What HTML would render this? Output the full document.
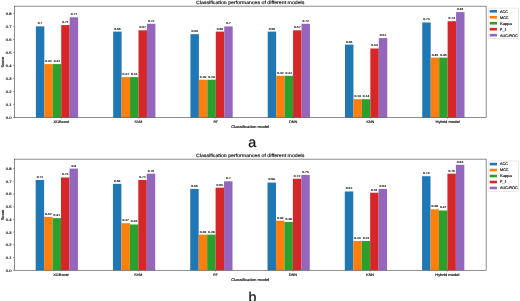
<!DOCTYPE html>
<html><head><meta charset="utf-8"><style>
html,body{margin:0;padding:0;background:#fff;overflow:hidden;}
svg{display:block;font-family:"Liberation Sans",sans-serif;text-rendering:geometricPrecision;}
</style></head><body>
<svg width="520" height="301" viewBox="0 0 520 301">
<rect width="520" height="301" fill="#fff"/>
<rect x="35.88" y="26.40" width="8.45" height="91.00" fill="#1f77b4"/>
<rect x="44.33" y="64.10" width="8.45" height="53.30" fill="#ff7f0e"/>
<rect x="52.77" y="64.10" width="8.45" height="53.30" fill="#2ca02c"/>
<rect x="61.22" y="25.10" width="8.45" height="92.30" fill="#d62728"/>
<rect x="69.67" y="17.30" width="8.45" height="100.10" fill="#9467bd"/>
<line x1="61.20" y1="117.4" x2="61.20" y2="118.7" stroke="#000" stroke-width="0.35"/>
<rect x="113.16" y="31.60" width="8.45" height="85.80" fill="#1f77b4"/>
<rect x="121.61" y="77.10" width="8.45" height="40.30" fill="#ff7f0e"/>
<rect x="130.06" y="77.10" width="8.45" height="40.30" fill="#2ca02c"/>
<rect x="138.50" y="30.30" width="8.45" height="87.10" fill="#d62728"/>
<rect x="146.95" y="23.80" width="8.45" height="93.60" fill="#9467bd"/>
<line x1="138.48" y1="117.4" x2="138.48" y2="118.7" stroke="#000" stroke-width="0.35"/>
<rect x="190.44" y="34.20" width="8.45" height="83.20" fill="#1f77b4"/>
<rect x="198.88" y="79.70" width="8.45" height="37.70" fill="#ff7f0e"/>
<rect x="207.34" y="79.70" width="8.45" height="37.70" fill="#2ca02c"/>
<rect x="215.78" y="31.60" width="8.45" height="85.80" fill="#d62728"/>
<rect x="224.24" y="26.40" width="8.45" height="91.00" fill="#9467bd"/>
<line x1="215.76" y1="117.4" x2="215.76" y2="118.7" stroke="#000" stroke-width="0.35"/>
<rect x="267.72" y="31.60" width="8.45" height="85.80" fill="#1f77b4"/>
<rect x="276.17" y="75.80" width="8.45" height="41.60" fill="#ff7f0e"/>
<rect x="284.62" y="75.80" width="8.45" height="41.60" fill="#2ca02c"/>
<rect x="293.07" y="30.30" width="8.45" height="87.10" fill="#d62728"/>
<rect x="301.52" y="23.80" width="8.45" height="93.60" fill="#9467bd"/>
<line x1="293.04" y1="117.4" x2="293.04" y2="118.7" stroke="#000" stroke-width="0.35"/>
<rect x="345.00" y="44.60" width="8.45" height="72.80" fill="#1f77b4"/>
<rect x="353.44" y="99.20" width="8.45" height="18.20" fill="#ff7f0e"/>
<rect x="361.89" y="99.20" width="8.45" height="18.20" fill="#2ca02c"/>
<rect x="370.35" y="48.50" width="8.45" height="68.90" fill="#d62728"/>
<rect x="378.80" y="38.10" width="8.45" height="79.30" fill="#9467bd"/>
<line x1="370.32" y1="117.4" x2="370.32" y2="118.7" stroke="#000" stroke-width="0.35"/>
<rect x="422.27" y="22.50" width="8.45" height="94.90" fill="#1f77b4"/>
<rect x="430.72" y="57.60" width="8.45" height="59.80" fill="#ff7f0e"/>
<rect x="439.17" y="57.60" width="8.45" height="59.80" fill="#2ca02c"/>
<rect x="447.62" y="21.20" width="8.45" height="96.20" fill="#d62728"/>
<rect x="456.07" y="12.10" width="8.45" height="105.30" fill="#9467bd"/>
<line x1="447.60" y1="117.4" x2="447.60" y2="118.7" stroke="#000" stroke-width="0.35"/>
<rect x="14.3" y="6.1" width="471.8" height="111.30000000000001" fill="none" stroke="#000" stroke-width="0.45"/>
<line x1="13.0" y1="117.40" x2="14.3" y2="117.40" stroke="#000" stroke-width="0.35"/>
<line x1="13.0" y1="104.40" x2="14.3" y2="104.40" stroke="#000" stroke-width="0.35"/>
<line x1="13.0" y1="91.40" x2="14.3" y2="91.40" stroke="#000" stroke-width="0.35"/>
<line x1="13.0" y1="78.40" x2="14.3" y2="78.40" stroke="#000" stroke-width="0.35"/>
<line x1="13.0" y1="65.40" x2="14.3" y2="65.40" stroke="#000" stroke-width="0.35"/>
<line x1="13.0" y1="52.40" x2="14.3" y2="52.40" stroke="#000" stroke-width="0.35"/>
<line x1="13.0" y1="39.40" x2="14.3" y2="39.40" stroke="#000" stroke-width="0.35"/>
<line x1="13.0" y1="26.40" x2="14.3" y2="26.40" stroke="#000" stroke-width="0.35"/>
<line x1="13.0" y1="13.40" x2="14.3" y2="13.40" stroke="#000" stroke-width="0.35"/>
<rect x="488.2" y="8.20" width="30.3" height="30.4" rx="0.8" fill="#fff" stroke="#cccccc" stroke-width="0.45"/>
<rect x="489.7" y="10.00" width="7.3" height="2.6" fill="#1f77b4"/>
<rect x="489.7" y="15.97" width="7.3" height="2.6" fill="#ff7f0e"/>
<rect x="489.7" y="21.94" width="7.3" height="2.6" fill="#2ca02c"/>
<rect x="489.7" y="27.91" width="7.3" height="2.6" fill="#d62728"/>
<rect x="489.7" y="33.88" width="7.3" height="2.6" fill="#9467bd"/>
<rect x="35.67" y="180.03" width="8.45" height="90.17" fill="#1f77b4"/>
<rect x="44.12" y="216.86" width="8.45" height="53.34" fill="#ff7f0e"/>
<rect x="52.57" y="218.13" width="8.45" height="52.07" fill="#2ca02c"/>
<rect x="61.02" y="177.49" width="8.45" height="92.71" fill="#d62728"/>
<rect x="69.47" y="168.60" width="8.45" height="101.60" fill="#9467bd"/>
<line x1="61.00" y1="270.2" x2="61.00" y2="271.5" stroke="#000" stroke-width="0.35"/>
<rect x="112.95" y="183.84" width="8.45" height="86.36" fill="#1f77b4"/>
<rect x="121.40" y="223.21" width="8.45" height="46.99" fill="#ff7f0e"/>
<rect x="129.85" y="224.48" width="8.45" height="45.72" fill="#2ca02c"/>
<rect x="138.30" y="180.03" width="8.45" height="90.17" fill="#d62728"/>
<rect x="146.75" y="173.68" width="8.45" height="96.52" fill="#9467bd"/>
<line x1="138.28" y1="270.2" x2="138.28" y2="271.5" stroke="#000" stroke-width="0.35"/>
<rect x="190.24" y="188.92" width="8.45" height="81.28" fill="#1f77b4"/>
<rect x="198.69" y="234.64" width="8.45" height="35.56" fill="#ff7f0e"/>
<rect x="207.14" y="234.64" width="8.45" height="35.56" fill="#2ca02c"/>
<rect x="215.59" y="187.65" width="8.45" height="82.55" fill="#d62728"/>
<rect x="224.04" y="181.30" width="8.45" height="88.90" fill="#9467bd"/>
<line x1="215.56" y1="270.2" x2="215.56" y2="271.5" stroke="#000" stroke-width="0.35"/>
<rect x="267.51" y="182.57" width="8.45" height="87.63" fill="#1f77b4"/>
<rect x="275.96" y="220.67" width="8.45" height="49.53" fill="#ff7f0e"/>
<rect x="284.41" y="221.94" width="8.45" height="48.26" fill="#2ca02c"/>
<rect x="292.87" y="178.76" width="8.45" height="91.44" fill="#d62728"/>
<rect x="301.31" y="174.95" width="8.45" height="95.25" fill="#9467bd"/>
<line x1="292.84" y1="270.2" x2="292.84" y2="271.5" stroke="#000" stroke-width="0.35"/>
<rect x="344.80" y="191.46" width="8.45" height="78.74" fill="#1f77b4"/>
<rect x="353.25" y="240.99" width="8.45" height="29.21" fill="#ff7f0e"/>
<rect x="361.69" y="240.99" width="8.45" height="29.21" fill="#2ca02c"/>
<rect x="370.15" y="192.73" width="8.45" height="77.47" fill="#d62728"/>
<rect x="378.60" y="188.92" width="8.45" height="81.28" fill="#9467bd"/>
<line x1="370.12" y1="270.2" x2="370.12" y2="271.5" stroke="#000" stroke-width="0.35"/>
<rect x="422.07" y="176.22" width="8.45" height="93.98" fill="#1f77b4"/>
<rect x="430.52" y="209.24" width="8.45" height="60.96" fill="#ff7f0e"/>
<rect x="438.97" y="210.51" width="8.45" height="59.69" fill="#2ca02c"/>
<rect x="447.43" y="173.68" width="8.45" height="96.52" fill="#d62728"/>
<rect x="455.88" y="164.79" width="8.45" height="105.41" fill="#9467bd"/>
<line x1="447.40" y1="270.2" x2="447.40" y2="271.5" stroke="#000" stroke-width="0.35"/>
<rect x="14.3" y="159.1" width="471.8" height="111.1" fill="none" stroke="#000" stroke-width="0.45"/>
<line x1="13.0" y1="270.20" x2="14.3" y2="270.20" stroke="#000" stroke-width="0.35"/>
<line x1="13.0" y1="257.50" x2="14.3" y2="257.50" stroke="#000" stroke-width="0.35"/>
<line x1="13.0" y1="244.80" x2="14.3" y2="244.80" stroke="#000" stroke-width="0.35"/>
<line x1="13.0" y1="232.10" x2="14.3" y2="232.10" stroke="#000" stroke-width="0.35"/>
<line x1="13.0" y1="219.40" x2="14.3" y2="219.40" stroke="#000" stroke-width="0.35"/>
<line x1="13.0" y1="206.70" x2="14.3" y2="206.70" stroke="#000" stroke-width="0.35"/>
<line x1="13.0" y1="194.00" x2="14.3" y2="194.00" stroke="#000" stroke-width="0.35"/>
<line x1="13.0" y1="181.30" x2="14.3" y2="181.30" stroke="#000" stroke-width="0.35"/>
<line x1="13.0" y1="168.60" x2="14.3" y2="168.60" stroke="#000" stroke-width="0.35"/>
<rect x="488.2" y="161.00" width="30.3" height="30.4" rx="0.8" fill="#fff" stroke="#cccccc" stroke-width="0.45"/>
<rect x="489.7" y="162.80" width="7.3" height="2.6" fill="#1f77b4"/>
<rect x="489.7" y="168.77" width="7.3" height="2.6" fill="#ff7f0e"/>
<rect x="489.7" y="174.74" width="7.3" height="2.6" fill="#2ca02c"/>
<rect x="489.7" y="180.71" width="7.3" height="2.6" fill="#d62728"/>
<rect x="489.7" y="186.68" width="7.3" height="2.6" fill="#9467bd"/>
<g style="filter:grayscale(1)">
<text x="40.10" y="24.30" font-size="2.9" text-anchor="middle" textLength="4.61" lengthAdjust="spacingAndGlyphs" fill="#1c1c1c" stroke="#1c1c1c" stroke-width="0.14">0.7</text>
<text x="48.55" y="62.00" font-size="2.9" text-anchor="middle" textLength="6.46" lengthAdjust="spacingAndGlyphs" fill="#1c1c1c" stroke="#1c1c1c" stroke-width="0.14">0.41</text>
<text x="57.00" y="62.00" font-size="2.9" text-anchor="middle" textLength="6.46" lengthAdjust="spacingAndGlyphs" fill="#1c1c1c" stroke="#1c1c1c" stroke-width="0.14">0.41</text>
<text x="65.45" y="23.00" font-size="2.9" text-anchor="middle" textLength="6.46" lengthAdjust="spacingAndGlyphs" fill="#1c1c1c" stroke="#1c1c1c" stroke-width="0.14">0.71</text>
<text x="73.90" y="15.20" font-size="2.9" text-anchor="middle" textLength="6.46" lengthAdjust="spacingAndGlyphs" fill="#1c1c1c" stroke="#1c1c1c" stroke-width="0.14">0.77</text>
<text x="61.20" y="123.00" font-size="3.6" text-anchor="middle" textLength="15.42" lengthAdjust="spacingAndGlyphs" fill="#1c1c1c" stroke="#1c1c1c" stroke-width="0.18">XGBoost</text>
<text x="117.38" y="29.50" font-size="2.9" text-anchor="middle" textLength="6.46" lengthAdjust="spacingAndGlyphs" fill="#1c1c1c" stroke="#1c1c1c" stroke-width="0.14">0.66</text>
<text x="125.83" y="75.00" font-size="2.9" text-anchor="middle" textLength="6.46" lengthAdjust="spacingAndGlyphs" fill="#1c1c1c" stroke="#1c1c1c" stroke-width="0.14">0.31</text>
<text x="134.28" y="75.00" font-size="2.9" text-anchor="middle" textLength="6.46" lengthAdjust="spacingAndGlyphs" fill="#1c1c1c" stroke="#1c1c1c" stroke-width="0.14">0.31</text>
<text x="142.73" y="28.20" font-size="2.9" text-anchor="middle" textLength="6.46" lengthAdjust="spacingAndGlyphs" fill="#1c1c1c" stroke="#1c1c1c" stroke-width="0.14">0.67</text>
<text x="151.18" y="21.70" font-size="2.9" text-anchor="middle" textLength="6.46" lengthAdjust="spacingAndGlyphs" fill="#1c1c1c" stroke="#1c1c1c" stroke-width="0.14">0.72</text>
<text x="138.48" y="123.00" font-size="3.6" text-anchor="middle" textLength="7.85" lengthAdjust="spacingAndGlyphs" fill="#1c1c1c" stroke="#1c1c1c" stroke-width="0.18">SVM</text>
<text x="194.66" y="32.10" font-size="2.9" text-anchor="middle" textLength="6.46" lengthAdjust="spacingAndGlyphs" fill="#1c1c1c" stroke="#1c1c1c" stroke-width="0.14">0.64</text>
<text x="203.11" y="77.60" font-size="2.9" text-anchor="middle" textLength="6.46" lengthAdjust="spacingAndGlyphs" fill="#1c1c1c" stroke="#1c1c1c" stroke-width="0.14">0.29</text>
<text x="211.56" y="77.60" font-size="2.9" text-anchor="middle" textLength="6.46" lengthAdjust="spacingAndGlyphs" fill="#1c1c1c" stroke="#1c1c1c" stroke-width="0.14">0.29</text>
<text x="220.01" y="29.50" font-size="2.9" text-anchor="middle" textLength="6.46" lengthAdjust="spacingAndGlyphs" fill="#1c1c1c" stroke="#1c1c1c" stroke-width="0.14">0.66</text>
<text x="228.46" y="24.30" font-size="2.9" text-anchor="middle" textLength="4.61" lengthAdjust="spacingAndGlyphs" fill="#1c1c1c" stroke="#1c1c1c" stroke-width="0.14">0.7</text>
<text x="215.76" y="123.00" font-size="3.6" text-anchor="middle" textLength="4.57" lengthAdjust="spacingAndGlyphs" fill="#1c1c1c" stroke="#1c1c1c" stroke-width="0.18">RF</text>
<text x="271.94" y="29.50" font-size="2.9" text-anchor="middle" textLength="6.46" lengthAdjust="spacingAndGlyphs" fill="#1c1c1c" stroke="#1c1c1c" stroke-width="0.14">0.66</text>
<text x="280.39" y="73.70" font-size="2.9" text-anchor="middle" textLength="6.46" lengthAdjust="spacingAndGlyphs" fill="#1c1c1c" stroke="#1c1c1c" stroke-width="0.14">0.32</text>
<text x="288.84" y="73.70" font-size="2.9" text-anchor="middle" textLength="6.46" lengthAdjust="spacingAndGlyphs" fill="#1c1c1c" stroke="#1c1c1c" stroke-width="0.14">0.32</text>
<text x="297.29" y="28.20" font-size="2.9" text-anchor="middle" textLength="6.46" lengthAdjust="spacingAndGlyphs" fill="#1c1c1c" stroke="#1c1c1c" stroke-width="0.14">0.67</text>
<text x="305.74" y="21.70" font-size="2.9" text-anchor="middle" textLength="6.46" lengthAdjust="spacingAndGlyphs" fill="#1c1c1c" stroke="#1c1c1c" stroke-width="0.14">0.72</text>
<text x="293.04" y="123.00" font-size="3.6" text-anchor="middle" textLength="8.16" lengthAdjust="spacingAndGlyphs" fill="#1c1c1c" stroke="#1c1c1c" stroke-width="0.18">DNN</text>
<text x="349.22" y="42.50" font-size="2.9" text-anchor="middle" textLength="6.46" lengthAdjust="spacingAndGlyphs" fill="#1c1c1c" stroke="#1c1c1c" stroke-width="0.14">0.56</text>
<text x="357.67" y="97.10" font-size="2.9" text-anchor="middle" textLength="6.46" lengthAdjust="spacingAndGlyphs" fill="#1c1c1c" stroke="#1c1c1c" stroke-width="0.14">0.14</text>
<text x="366.12" y="97.10" font-size="2.9" text-anchor="middle" textLength="6.46" lengthAdjust="spacingAndGlyphs" fill="#1c1c1c" stroke="#1c1c1c" stroke-width="0.14">0.14</text>
<text x="374.57" y="46.40" font-size="2.9" text-anchor="middle" textLength="6.46" lengthAdjust="spacingAndGlyphs" fill="#1c1c1c" stroke="#1c1c1c" stroke-width="0.14">0.53</text>
<text x="383.02" y="36.00" font-size="2.9" text-anchor="middle" textLength="6.46" lengthAdjust="spacingAndGlyphs" fill="#1c1c1c" stroke="#1c1c1c" stroke-width="0.14">0.61</text>
<text x="370.32" y="123.00" font-size="3.6" text-anchor="middle" textLength="7.75" lengthAdjust="spacingAndGlyphs" fill="#1c1c1c" stroke="#1c1c1c" stroke-width="0.18">KNN</text>
<text x="426.50" y="20.40" font-size="2.9" text-anchor="middle" textLength="6.46" lengthAdjust="spacingAndGlyphs" fill="#1c1c1c" stroke="#1c1c1c" stroke-width="0.14">0.73</text>
<text x="434.95" y="55.50" font-size="2.9" text-anchor="middle" textLength="6.46" lengthAdjust="spacingAndGlyphs" fill="#1c1c1c" stroke="#1c1c1c" stroke-width="0.14">0.46</text>
<text x="443.40" y="55.50" font-size="2.9" text-anchor="middle" textLength="6.46" lengthAdjust="spacingAndGlyphs" fill="#1c1c1c" stroke="#1c1c1c" stroke-width="0.14">0.46</text>
<text x="451.85" y="19.10" font-size="2.9" text-anchor="middle" textLength="6.46" lengthAdjust="spacingAndGlyphs" fill="#1c1c1c" stroke="#1c1c1c" stroke-width="0.14">0.74</text>
<text x="460.30" y="10.00" font-size="2.9" text-anchor="middle" textLength="6.46" lengthAdjust="spacingAndGlyphs" fill="#1c1c1c" stroke="#1c1c1c" stroke-width="0.14">0.81</text>
<text x="447.60" y="123.00" font-size="3.6" text-anchor="middle" textLength="24.24" lengthAdjust="spacingAndGlyphs" fill="#1c1c1c" stroke="#1c1c1c" stroke-width="0.18">Hybrid model</text>
<text x="11.60" y="118.85" font-size="3.6" text-anchor="end" textLength="5.73" lengthAdjust="spacingAndGlyphs" fill="#1c1c1c" stroke="#1c1c1c" stroke-width="0.18">0.0</text>
<text x="11.60" y="105.85" font-size="3.6" text-anchor="end" textLength="5.73" lengthAdjust="spacingAndGlyphs" fill="#1c1c1c" stroke="#1c1c1c" stroke-width="0.18">0.1</text>
<text x="11.60" y="92.85" font-size="3.6" text-anchor="end" textLength="5.73" lengthAdjust="spacingAndGlyphs" fill="#1c1c1c" stroke="#1c1c1c" stroke-width="0.18">0.2</text>
<text x="11.60" y="79.85" font-size="3.6" text-anchor="end" textLength="5.73" lengthAdjust="spacingAndGlyphs" fill="#1c1c1c" stroke="#1c1c1c" stroke-width="0.18">0.3</text>
<text x="11.60" y="66.85" font-size="3.6" text-anchor="end" textLength="5.73" lengthAdjust="spacingAndGlyphs" fill="#1c1c1c" stroke="#1c1c1c" stroke-width="0.18">0.4</text>
<text x="11.60" y="53.85" font-size="3.6" text-anchor="end" textLength="5.73" lengthAdjust="spacingAndGlyphs" fill="#1c1c1c" stroke="#1c1c1c" stroke-width="0.18">0.5</text>
<text x="11.60" y="40.85" font-size="3.6" text-anchor="end" textLength="5.73" lengthAdjust="spacingAndGlyphs" fill="#1c1c1c" stroke="#1c1c1c" stroke-width="0.18">0.6</text>
<text x="11.60" y="27.85" font-size="3.6" text-anchor="end" textLength="5.73" lengthAdjust="spacingAndGlyphs" fill="#1c1c1c" stroke="#1c1c1c" stroke-width="0.18">0.7</text>
<text x="11.60" y="14.85" font-size="3.6" text-anchor="end" textLength="5.73" lengthAdjust="spacingAndGlyphs" fill="#1c1c1c" stroke="#1c1c1c" stroke-width="0.18">0.8</text>
<text x="250.20" y="4.20" font-size="4.58" text-anchor="middle" textLength="108.36" lengthAdjust="spacingAndGlyphs" fill="#1c1c1c" stroke="#1c1c1c" stroke-width="0.18">Classification performances of different models</text>
<text x="250.20" y="128.30" font-size="3.79" text-anchor="middle" textLength="38.08" lengthAdjust="spacingAndGlyphs" fill="#1c1c1c" stroke="#1c1c1c" stroke-width="0.18">Classification model</text>
<text x="0.00" y="0.00" font-size="3.79" text-anchor="middle" textLength="10.62" lengthAdjust="spacingAndGlyphs" fill="#1c1c1c" stroke="#1c1c1c" stroke-width="0.18" transform="translate(3.8,62.15) rotate(-90)">Score</text>
<text x="500.00" y="12.65" font-size="3.79" text-anchor="start" textLength="7.82" lengthAdjust="spacingAndGlyphs" fill="#1c1c1c" stroke="#1c1c1c" stroke-width="0.18">ACC</text>
<text x="500.00" y="18.62" font-size="3.79" text-anchor="start" textLength="8.56" lengthAdjust="spacingAndGlyphs" fill="#1c1c1c" stroke="#1c1c1c" stroke-width="0.18">MCC</text>
<text x="500.00" y="24.59" font-size="3.79" text-anchor="start" textLength="11.88" lengthAdjust="spacingAndGlyphs" fill="#1c1c1c" stroke="#1c1c1c" stroke-width="0.18">Kappa</text>
<text x="500.00" y="30.56" font-size="3.79" text-anchor="start" textLength="6.49" lengthAdjust="spacingAndGlyphs" fill="#1c1c1c" stroke="#1c1c1c" stroke-width="0.18">F_1</text>
<text x="500.00" y="36.53" font-size="3.79" text-anchor="start" textLength="17.64" lengthAdjust="spacingAndGlyphs" fill="#1c1c1c" stroke="#1c1c1c" stroke-width="0.18">AUC-ROC</text>
<text x="39.90" y="177.93" font-size="2.9" text-anchor="middle" textLength="6.46" lengthAdjust="spacingAndGlyphs" fill="#1c1c1c" stroke="#1c1c1c" stroke-width="0.14">0.71</text>
<text x="48.35" y="214.76" font-size="2.9" text-anchor="middle" textLength="6.46" lengthAdjust="spacingAndGlyphs" fill="#1c1c1c" stroke="#1c1c1c" stroke-width="0.14">0.42</text>
<text x="56.80" y="216.03" font-size="2.9" text-anchor="middle" textLength="6.46" lengthAdjust="spacingAndGlyphs" fill="#1c1c1c" stroke="#1c1c1c" stroke-width="0.14">0.41</text>
<text x="65.25" y="175.39" font-size="2.9" text-anchor="middle" textLength="6.46" lengthAdjust="spacingAndGlyphs" fill="#1c1c1c" stroke="#1c1c1c" stroke-width="0.14">0.73</text>
<text x="73.70" y="166.50" font-size="2.9" text-anchor="middle" textLength="4.61" lengthAdjust="spacingAndGlyphs" fill="#1c1c1c" stroke="#1c1c1c" stroke-width="0.14">0.8</text>
<text x="61.00" y="275.80" font-size="3.6" text-anchor="middle" textLength="15.42" lengthAdjust="spacingAndGlyphs" fill="#1c1c1c" stroke="#1c1c1c" stroke-width="0.18">XGBoost</text>
<text x="117.18" y="181.74" font-size="2.9" text-anchor="middle" textLength="6.46" lengthAdjust="spacingAndGlyphs" fill="#1c1c1c" stroke="#1c1c1c" stroke-width="0.14">0.68</text>
<text x="125.63" y="221.11" font-size="2.9" text-anchor="middle" textLength="6.46" lengthAdjust="spacingAndGlyphs" fill="#1c1c1c" stroke="#1c1c1c" stroke-width="0.14">0.37</text>
<text x="134.08" y="222.38" font-size="2.9" text-anchor="middle" textLength="6.46" lengthAdjust="spacingAndGlyphs" fill="#1c1c1c" stroke="#1c1c1c" stroke-width="0.14">0.36</text>
<text x="142.53" y="177.93" font-size="2.9" text-anchor="middle" textLength="6.46" lengthAdjust="spacingAndGlyphs" fill="#1c1c1c" stroke="#1c1c1c" stroke-width="0.14">0.71</text>
<text x="150.98" y="171.58" font-size="2.9" text-anchor="middle" textLength="6.46" lengthAdjust="spacingAndGlyphs" fill="#1c1c1c" stroke="#1c1c1c" stroke-width="0.14">0.76</text>
<text x="138.28" y="275.80" font-size="3.6" text-anchor="middle" textLength="7.85" lengthAdjust="spacingAndGlyphs" fill="#1c1c1c" stroke="#1c1c1c" stroke-width="0.18">SVM</text>
<text x="194.46" y="186.82" font-size="2.9" text-anchor="middle" textLength="6.46" lengthAdjust="spacingAndGlyphs" fill="#1c1c1c" stroke="#1c1c1c" stroke-width="0.14">0.64</text>
<text x="202.91" y="232.54" font-size="2.9" text-anchor="middle" textLength="6.46" lengthAdjust="spacingAndGlyphs" fill="#1c1c1c" stroke="#1c1c1c" stroke-width="0.14">0.28</text>
<text x="211.36" y="232.54" font-size="2.9" text-anchor="middle" textLength="6.46" lengthAdjust="spacingAndGlyphs" fill="#1c1c1c" stroke="#1c1c1c" stroke-width="0.14">0.28</text>
<text x="219.81" y="185.55" font-size="2.9" text-anchor="middle" textLength="6.46" lengthAdjust="spacingAndGlyphs" fill="#1c1c1c" stroke="#1c1c1c" stroke-width="0.14">0.65</text>
<text x="228.26" y="179.20" font-size="2.9" text-anchor="middle" textLength="4.61" lengthAdjust="spacingAndGlyphs" fill="#1c1c1c" stroke="#1c1c1c" stroke-width="0.14">0.7</text>
<text x="215.56" y="275.80" font-size="3.6" text-anchor="middle" textLength="4.57" lengthAdjust="spacingAndGlyphs" fill="#1c1c1c" stroke="#1c1c1c" stroke-width="0.18">RF</text>
<text x="271.74" y="180.47" font-size="2.9" text-anchor="middle" textLength="6.46" lengthAdjust="spacingAndGlyphs" fill="#1c1c1c" stroke="#1c1c1c" stroke-width="0.14">0.69</text>
<text x="280.19" y="218.57" font-size="2.9" text-anchor="middle" textLength="6.46" lengthAdjust="spacingAndGlyphs" fill="#1c1c1c" stroke="#1c1c1c" stroke-width="0.14">0.39</text>
<text x="288.64" y="219.84" font-size="2.9" text-anchor="middle" textLength="6.46" lengthAdjust="spacingAndGlyphs" fill="#1c1c1c" stroke="#1c1c1c" stroke-width="0.14">0.38</text>
<text x="297.09" y="176.66" font-size="2.9" text-anchor="middle" textLength="6.46" lengthAdjust="spacingAndGlyphs" fill="#1c1c1c" stroke="#1c1c1c" stroke-width="0.14">0.72</text>
<text x="305.54" y="172.85" font-size="2.9" text-anchor="middle" textLength="6.46" lengthAdjust="spacingAndGlyphs" fill="#1c1c1c" stroke="#1c1c1c" stroke-width="0.14">0.75</text>
<text x="292.84" y="275.80" font-size="3.6" text-anchor="middle" textLength="8.16" lengthAdjust="spacingAndGlyphs" fill="#1c1c1c" stroke="#1c1c1c" stroke-width="0.18">DNN</text>
<text x="349.02" y="189.36" font-size="2.9" text-anchor="middle" textLength="6.46" lengthAdjust="spacingAndGlyphs" fill="#1c1c1c" stroke="#1c1c1c" stroke-width="0.14">0.62</text>
<text x="357.47" y="238.89" font-size="2.9" text-anchor="middle" textLength="6.46" lengthAdjust="spacingAndGlyphs" fill="#1c1c1c" stroke="#1c1c1c" stroke-width="0.14">0.23</text>
<text x="365.92" y="238.89" font-size="2.9" text-anchor="middle" textLength="6.46" lengthAdjust="spacingAndGlyphs" fill="#1c1c1c" stroke="#1c1c1c" stroke-width="0.14">0.23</text>
<text x="374.37" y="190.63" font-size="2.9" text-anchor="middle" textLength="6.46" lengthAdjust="spacingAndGlyphs" fill="#1c1c1c" stroke="#1c1c1c" stroke-width="0.14">0.61</text>
<text x="382.82" y="186.82" font-size="2.9" text-anchor="middle" textLength="6.46" lengthAdjust="spacingAndGlyphs" fill="#1c1c1c" stroke="#1c1c1c" stroke-width="0.14">0.64</text>
<text x="370.12" y="275.80" font-size="3.6" text-anchor="middle" textLength="7.75" lengthAdjust="spacingAndGlyphs" fill="#1c1c1c" stroke="#1c1c1c" stroke-width="0.18">KNN</text>
<text x="426.30" y="174.12" font-size="2.9" text-anchor="middle" textLength="6.46" lengthAdjust="spacingAndGlyphs" fill="#1c1c1c" stroke="#1c1c1c" stroke-width="0.14">0.74</text>
<text x="434.75" y="207.14" font-size="2.9" text-anchor="middle" textLength="6.46" lengthAdjust="spacingAndGlyphs" fill="#1c1c1c" stroke="#1c1c1c" stroke-width="0.14">0.48</text>
<text x="443.20" y="208.41" font-size="2.9" text-anchor="middle" textLength="6.46" lengthAdjust="spacingAndGlyphs" fill="#1c1c1c" stroke="#1c1c1c" stroke-width="0.14">0.47</text>
<text x="451.65" y="171.58" font-size="2.9" text-anchor="middle" textLength="6.46" lengthAdjust="spacingAndGlyphs" fill="#1c1c1c" stroke="#1c1c1c" stroke-width="0.14">0.76</text>
<text x="460.10" y="162.69" font-size="2.9" text-anchor="middle" textLength="6.46" lengthAdjust="spacingAndGlyphs" fill="#1c1c1c" stroke="#1c1c1c" stroke-width="0.14">0.83</text>
<text x="447.40" y="275.80" font-size="3.6" text-anchor="middle" textLength="24.24" lengthAdjust="spacingAndGlyphs" fill="#1c1c1c" stroke="#1c1c1c" stroke-width="0.18">Hybrid model</text>
<text x="11.60" y="271.65" font-size="3.6" text-anchor="end" textLength="5.73" lengthAdjust="spacingAndGlyphs" fill="#1c1c1c" stroke="#1c1c1c" stroke-width="0.18">0.0</text>
<text x="11.60" y="258.95" font-size="3.6" text-anchor="end" textLength="5.73" lengthAdjust="spacingAndGlyphs" fill="#1c1c1c" stroke="#1c1c1c" stroke-width="0.18">0.1</text>
<text x="11.60" y="246.25" font-size="3.6" text-anchor="end" textLength="5.73" lengthAdjust="spacingAndGlyphs" fill="#1c1c1c" stroke="#1c1c1c" stroke-width="0.18">0.2</text>
<text x="11.60" y="233.55" font-size="3.6" text-anchor="end" textLength="5.73" lengthAdjust="spacingAndGlyphs" fill="#1c1c1c" stroke="#1c1c1c" stroke-width="0.18">0.3</text>
<text x="11.60" y="220.85" font-size="3.6" text-anchor="end" textLength="5.73" lengthAdjust="spacingAndGlyphs" fill="#1c1c1c" stroke="#1c1c1c" stroke-width="0.18">0.4</text>
<text x="11.60" y="208.15" font-size="3.6" text-anchor="end" textLength="5.73" lengthAdjust="spacingAndGlyphs" fill="#1c1c1c" stroke="#1c1c1c" stroke-width="0.18">0.5</text>
<text x="11.60" y="195.45" font-size="3.6" text-anchor="end" textLength="5.73" lengthAdjust="spacingAndGlyphs" fill="#1c1c1c" stroke="#1c1c1c" stroke-width="0.18">0.6</text>
<text x="11.60" y="182.75" font-size="3.6" text-anchor="end" textLength="5.73" lengthAdjust="spacingAndGlyphs" fill="#1c1c1c" stroke="#1c1c1c" stroke-width="0.18">0.7</text>
<text x="11.60" y="170.05" font-size="3.6" text-anchor="end" textLength="5.73" lengthAdjust="spacingAndGlyphs" fill="#1c1c1c" stroke="#1c1c1c" stroke-width="0.18">0.8</text>
<text x="250.20" y="157.20" font-size="4.58" text-anchor="middle" textLength="108.36" lengthAdjust="spacingAndGlyphs" fill="#1c1c1c" stroke="#1c1c1c" stroke-width="0.18">Classification performances of different models</text>
<text x="250.20" y="281.10" font-size="3.79" text-anchor="middle" textLength="38.08" lengthAdjust="spacingAndGlyphs" fill="#1c1c1c" stroke="#1c1c1c" stroke-width="0.18">Classification model</text>
<text x="0.00" y="0.00" font-size="3.79" text-anchor="middle" textLength="10.62" lengthAdjust="spacingAndGlyphs" fill="#1c1c1c" stroke="#1c1c1c" stroke-width="0.18" transform="translate(3.8,215.05) rotate(-90)">Score</text>
<text x="500.00" y="165.45" font-size="3.79" text-anchor="start" textLength="7.82" lengthAdjust="spacingAndGlyphs" fill="#1c1c1c" stroke="#1c1c1c" stroke-width="0.18">ACC</text>
<text x="500.00" y="171.42" font-size="3.79" text-anchor="start" textLength="8.56" lengthAdjust="spacingAndGlyphs" fill="#1c1c1c" stroke="#1c1c1c" stroke-width="0.18">MCC</text>
<text x="500.00" y="177.39" font-size="3.79" text-anchor="start" textLength="11.88" lengthAdjust="spacingAndGlyphs" fill="#1c1c1c" stroke="#1c1c1c" stroke-width="0.18">Kappa</text>
<text x="500.00" y="183.36" font-size="3.79" text-anchor="start" textLength="6.49" lengthAdjust="spacingAndGlyphs" fill="#1c1c1c" stroke="#1c1c1c" stroke-width="0.18">F_1</text>
<text x="500.00" y="189.33" font-size="3.79" text-anchor="start" textLength="17.64" lengthAdjust="spacingAndGlyphs" fill="#1c1c1c" stroke="#1c1c1c" stroke-width="0.18">AUC-ROC</text>
<text x="252.3" y="147.1" font-size="14.3" text-anchor="middle" fill="#111" stroke="#111" stroke-width="0.25">a</text>
<text x="252.5" y="302.1" font-size="14.2" text-anchor="middle" fill="#111" stroke="#111" stroke-width="0.25">b</text>
</g>
</svg>
</body></html>
